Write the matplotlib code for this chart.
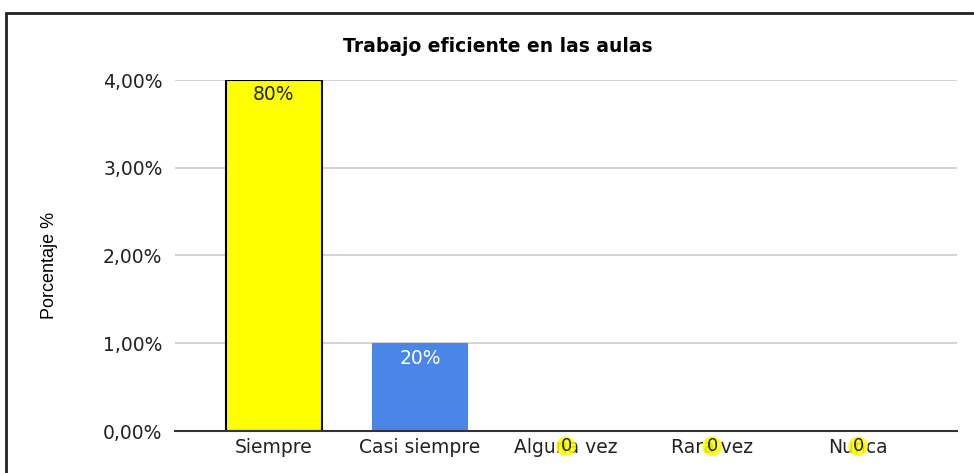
import matplotlib.pyplot as plt
from matplotlib.patches import Rectangle

categories = ["Siempre", "Casi siempre", "Alguna vez", "Rara vez", "Nunca"]
values = [4.0, 1.0, 0.0, 0.0, 0.0]
value_labels = ["80%", "20%", "0", "0", "0"]
bar_colors = ["#ffff00", "#4a86e8", "#4a86e8", "#4a86e8", "#4a86e8"]
yticks = [0, 1, 2, 3, 4]
ytick_labels = ["0,00%", "1,00%", "2,00%", "3,00%", "4,00%"]

# the source picture is stretched sideways, a wide face copes best
plt.rcParams["font.family"] = ["DejaVu Sans"]

W, H = 974, 473
fig = plt.figure(figsize=(W / 100, H / 100), dpi=100)
ax = fig.add_axes([175 / W, 1 - 431 / H, (957 - 175) / W, (431 - 80) / H])

x = list(range(len(categories)))
ax.bar(x, values, width=0.66, color=bar_colors,
       edgecolor=["black", "none", "none", "none", "none"], linewidth=1.5, zorder=3)

ax.set_xlim(-0.678, 4.678)
ax.set_ylim(0, 4)
ax.set_yticks(yticks)
ax.set_yticklabels(ytick_labels, fontsize=13.5, color="#222222")
ax.set_xticks(x)
ax.set_xticklabels(categories, fontsize=13.5, color="#222222")
ax.tick_params(axis="both", length=0)
ax.tick_params(axis="y", pad=9)
ax.tick_params(axis="x", pad=5)

for s in ["top", "right", "left"]:
    ax.spines[s].set_visible(False)
ax.spines["bottom"].set_color("#333333")
ax.spines["bottom"].set_linewidth(1.5)
ax.spines["bottom"].set_zorder(4)
ax.grid(axis="y", color="#cccccc", linewidth=1.2, zorder=0)

# data labels
for i, (v, lab) in enumerate(zip(values, value_labels)):
    if v > 0:
        col = "#222222" if i == 0 else "white"
        ax.text(i, v - 0.06, lab, ha="center", va="top", fontsize=13.5,
                color=col, zorder=5)
    else:
        ax.annotate(lab, xy=(i, 0), xytext=(0, -11), textcoords="offset points",
                    ha="center", va="center", fontsize=13, color="#222222",
                    zorder=5, annotation_clip=False,
                    bbox=dict(boxstyle="circle,pad=0.05", fc="#ffff00", ec="none", alpha=0.85))

fig.text(498 / W, 1 - 46 / H, "Trabajo eficiente en las aulas", ha="center",
         va="center", fontsize=13.5, fontweight="bold")
fig.text(50 / W, 1 - 265 / H, "Porcentaje %", ha="center", va="center",
         rotation=90, fontsize=13, family="Liberation Sans")

# outer frame, cropped at right and bottom
fig.patches.append(Rectangle((6 / W, -0.2), 1.2, 1 - 13 / H + 0.2,
                             transform=fig.transFigure, fill=False,
                             edgecolor="#222222", linewidth=2))

fig.savefig("out.png", dpi=100)
